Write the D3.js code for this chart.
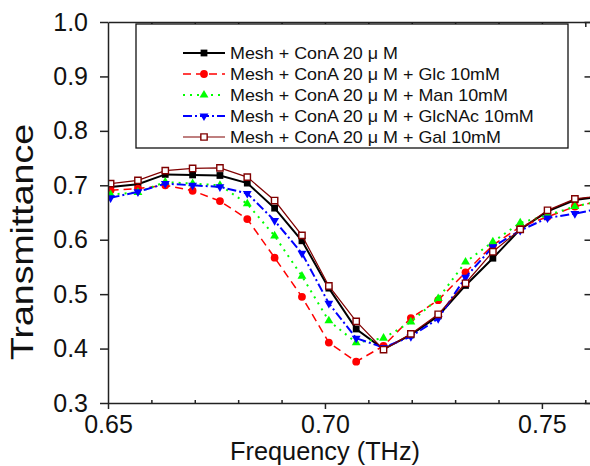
<!DOCTYPE html>
<html>
<head>
<meta charset="utf-8">
<script src="https://cdn.jsdelivr.net/npm/d3@7"></script>
<style>
  html, body { margin: 0; padding: 0; background: #fff; }
  svg { display: block; font-family: 'Liberation Sans', Arial, sans-serif; }
</style>
</head>
<body>
<div id="chart"></div>
<script>
// frequencies (THz)
const freq = [0.6506, 0.6569, 0.6632, 0.6695, 0.6758, 0.6821, 0.6884, 0.6947, 0.7009, 0.7072,
  0.7135, 0.7198, 0.7261, 0.7324, 0.7387, 0.7450, 0.7513, 0.7576, 0.7639]

const conA = [0.697, 0.702, 0.720, 0.719, 0.718, 0.704, 0.658, 0.598, 0.511, 0.436,
  0.399, 0.425, 0.460, 0.516, 0.566, 0.619, 0.652, 0.673, 0.680]
const conAGlc = [0.691, 0.694, 0.700, 0.690, 0.671, 0.638, 0.567, 0.495, 0.411, 0.376,
  0.405, 0.456, 0.489, 0.540, 0.590, 0.624, 0.642, 0.661, 0.672]
const conAMan = [0.683, 0.687, 0.706, 0.703, 0.700, 0.666, 0.607, 0.533, 0.451, 0.411,
  0.419, 0.449, 0.492, 0.559, 0.596, 0.631, 0.645, 0.661, 0.672]
const conAGlcNAc = [0.677, 0.688, 0.703, 0.700, 0.697, 0.685, 0.635, 0.575, 0.483, 0.419,
  0.402, 0.422, 0.455, 0.531, 0.587, 0.617, 0.640, 0.648, 0.658]
const conAGal = [0.703, 0.709, 0.727, 0.731, 0.732, 0.715, 0.672, 0.608, 0.515, 0.450,
  0.398, 0.427, 0.463, 0.520, 0.578, 0.619, 0.654, 0.675, 0.681]

const labels = [
  'Mesh + ConA 20 μ M',
  'Mesh + ConA 20 μ M + Glc 10mM',
  'Mesh + ConA 20 μ M + Man 10mM',
  'Mesh + ConA 20 μ M + GlcNAc 10mM',
  'Mesh + ConA 20 μ M + Gal 10mM'
]

const yTicks = [0.3, 0.4, 0.5, 0.6, 0.7, 0.8, 0.9, 1.0]
const xTicks = [0.65, 0.70, 0.75]
const xMinorTicks = [0.66, 0.67, 0.68, 0.69, 0.71, 0.72, 0.73, 0.74, 0.76]
const xTopTicks = [0.66, 0.67, 0.68, 0.69, 0.70, 0.71, 0.72, 0.73, 0.74, 0.75, 0.76]

const series = [
  { label: labels[0], values: conA, color: '#000', width: 2, dash: null, marker: 'square' },
  { label: labels[1], values: conAGlc, color: '#ff0000', width: 1.5, dash: '8,5', marker: 'circle' },
  { label: labels[2], values: conAMan, color: '#00ff00', width: 2, dash: '2,5', marker: 'up' },
  { label: labels[3], values: conAGlcNAc, color: '#0000ff', width: 2, dash: '9,3,2,3', marker: 'down' },
  { label: labels[4], values: conAGal, color: '#800000', width: 1.2, dash: null, marker: 'open' }
]

const width = 590
const height = 466
const plotLeft = 108
const plotRight = 590.5
const plotTop = 22
const plotBottom = 403

const svg = d3.select('#chart')
  .append('svg')
  .attr('width', width)
  .attr('height', height)

const x = d3.scaleLinear().domain([0.65, 0.7612]).range([plotLeft, plotRight])
const y = d3.scaleLinear().domain([0.3, 1.0]).range([plotBottom, plotTop])

svg.append('defs').append('clipPath')
  .attr('id', 'plot-clip')
  .append('rect')
  .attr('x', plotLeft)
  .attr('y', plotTop)
  .attr('width', plotRight - plotLeft)
  .attr('height', plotBottom - plotTop)

function drawMarker (sel, kind, color) {
  if (kind === 'square') {
    sel.append('path').attr('d', d3.symbol().type(d3.symbolSquare).size(46)())
      .attr('fill', '#000')
  } else if (kind === 'circle') {
    sel.append('circle').attr('r', 3.9).attr('fill', color)
  } else if (kind === 'up') {
    sel.append('path').attr('d', d3.symbol().type(d3.symbolTriangle).size(34)())
      .attr('fill', color)
  } else if (kind === 'down') {
    sel.append('path').attr('d', d3.symbol().type(d3.symbolTriangle).size(34)())
      .attr('transform', 'rotate(180)')
      .attr('fill', color)
  } else {
    sel.append('path').attr('d', d3.symbol().type(d3.symbolSquare).size(40)())
      .attr('fill', '#fff')
      .attr('stroke', color)
      .attr('stroke-width', 1.4)
  }
}

const line = d3.line()
  .x((d, i) => x(freq[i]))
  .y(d => y(d))

const plot = svg.append('g').attr('clip-path', 'url(#plot-clip)')

series.forEach(s => {
  const g = plot.append('g')
  g.append('path')
    .datum(s.values)
    .attr('d', line)
    .attr('fill', 'none')
    .attr('stroke', s.color)
    .attr('stroke-width', s.width)
    .attr('stroke-dasharray', s.dash)

  g.selectAll('g.pt')
    .data(s.values)
    .join('g')
    .attr('class', 'pt')
    .attr('transform', (d, i) => `translate(${x(freq[i])},${y(d)})`)
    .each(function () { drawMarker(d3.select(this), s.marker, s.color) })
})

// axes
const axisColor = '#222'

svg.append('g')
  .attr('transform', `translate(${plotLeft},0)`)
  .call(d3.axisLeft(y).tickValues(yTicks).tickFormat(d3.format('.1f'))
    .tickSizeInner(8).tickSizeOuter(0).tickPadding(12))

svg.append('g')
  .attr('transform', `translate(0,${plotBottom})`)
  .call(d3.axisBottom(x).tickValues(xTicks).tickFormat(d3.format('.2f'))
    .tickSizeInner(6).tickSizeOuter(0).tickPadding(6))

svg.append('g')
  .attr('transform', `translate(0,${plotBottom})`)
  .call(d3.axisBottom(x).tickValues(xMinorTicks).tickFormat('')
    .tickSizeInner(-3).tickSizeOuter(0))
  .call(g => g.select('.domain').remove())

svg.append('g')
  .attr('transform', `translate(0,${plotTop})`)
  .call(d3.axisTop(x).tickValues(xTopTicks).tickFormat('')
    .tickSizeInner(-5).tickSizeOuter(0))

svg.append('g')
  .attr('transform', `translate(${plotRight},0)`)
  .call(d3.axisRight(y).tickValues(yTicks).tickFormat('')
    .tickSizeInner(-6).tickSizeOuter(0))

svg.selectAll('.domain, .tick line')
  .attr('stroke', axisColor)
  .attr('stroke-width', 1.5)

svg.selectAll('.tick text')
  .attr('font-size', 25)
  .attr('font-family', "'Liberation Sans', Arial, sans-serif")
  .attr('fill', '#111')

// axis titles
svg.append('text')
  .attr('transform', 'translate(33,242) rotate(-90)')
  .attr('text-anchor', 'middle')
  .attr('font-size', 32)
  .attr('textLength', 236)
  .attr('lengthAdjust', 'spacingAndGlyphs')
  .attr('fill', '#111')
  .text('Transmittance')

svg.append('text')
  .attr('x', 325)
  .attr('y', 460)
  .attr('text-anchor', 'middle')
  .attr('font-size', 25)
  .attr('textLength', 190)
  .attr('lengthAdjust', 'spacingAndGlyphs')
  .attr('fill', '#111')
  .text('Frequency (THz)')

// legend
const legend = svg.append('g')

legend.append('rect')
  .attr('x', 136)
  .attr('y', 24)
  .attr('width', 432)
  .attr('height', 124)
  .attr('fill', '#fff')
  .attr('stroke', '#111')
  .attr('stroke-width', 1.3)

const rowY = d3.scalePoint().domain(labels).range([53, 137])

let stretch = null
series.forEach(s => {
  const lg = legend.append('g')
    .attr('transform', `translate(0,${rowY(s.label)})`)

  lg.append('line')
    .attr('x1', 183)
    .attr('x2', 225)
    .attr('stroke', s.color)
    .attr('stroke-width', s.width)
    .attr('stroke-dasharray', s.dash)

  const mk = lg.append('g').attr('transform', 'translate(204,0)')
  drawMarker(mk, s.marker, s.color)

  const t = lg.append('text')
    .attr('x', 230)
    .attr('dy', '0.36em')
    .attr('font-size', 17)
    .attr('fill', '#111')
    .text(s.label)

  const w = t.node().getComputedTextLength()
  if (stretch === null) stretch = 168 / w
  t.attr('textLength', w * stretch).attr('lengthAdjust', 'spacingAndGlyphs')
})
</script>
</body>
</html>
